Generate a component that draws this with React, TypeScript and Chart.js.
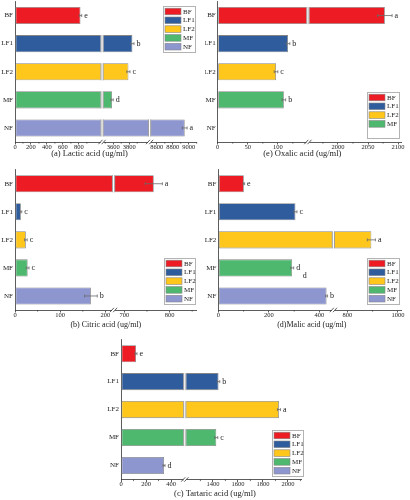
import React, { useEffect, useRef } from 'react';
import { Chart, registerables } from 'chart.js';

Chart.register(...registerables);

// ---------- data ----------
const categories = ['BF', 'LF1', 'LF2', 'MF', 'NF'];
const colors = ['#ED1C24', '#2E5C9C', '#FFC61B', '#4DB86E', '#8E96D0'];

// (a) Lactic acid
const lacticValues = [820, 3840, 3790, 3585, 8950];
const lacticErrors = [15, 20, 20, 15, 30];
const lacticLetters = ['e', 'b', 'c', 'd', 'a'];
const lacticSegments = [[0, 1090], [3460, 4055], [8510, 9100]];
const lacticTicks = [[0, 200, 400, 600, 800], [3600, 3800], [8600, 8800, 9000]];

// (e) Oxalic acid
const oxalicValues = [2078, 117, 97, 110, 0];
const oxalicErrors = [12, 3, 3, 3, 0];
const oxalicLetters = ['a', 'b', 'c', 'b', ''];
const oxalicSegments = [[0, 150], [1950, 2106]];
const oxalicTicks = [[0, 50, 100], [2000, 2050, 2100]];

// (b) Citric acid
const citricValues = [765, 13, 24, 28, 168];
const citricErrors = [19, 2, 3, 3, 14];
const citricLetters = ['a', 'c', 'c', 'c', 'b'];
const citricSegments = [[0, 218], [676, 860]];
const citricTicks = [[0, 100, 200], [700, 800]];

// (d) Malic acid
const malicValues = [101, 305, 895, 292, 428];
const malicErrors = [3, 6, 16, 6, 4];
const malicLetters = ['e', 'c', 'a', 'd', 'b'];
const malicExtraLetters = ['', '', '', 'd', ''];
const malicSegments = [[0, 455], [745, 1015]];
const malicTicks = [[0, 200, 400], [800, 1000]];

// (c) Tartaric acid
const tartaricValues = [120, 1445, 1928, 1427, 344];
const tartaricErrors = [8, 10, 12, 12, 8];
const tartaricLetters = ['e', 'b', 'a', 'c', 'd'];
const tartaricSegments = [[0, 510], [1175, 2110]];
const tartaricTicks = [[0, 200, 400], [1400, 1600, 1800, 2000]];

// ---------- styles ----------
const FONT = '"Liberation Serif", "Times New Roman", serif';
const BAR_BORDER = '#858585';
const AXIS = '#333333';
const TEXT = '#222222';

type Spec = {
  title: string;
  values: number[];
  errors: number[];
  letters: string[];
  extraLetters?: string[];
  segments: number[][];
  ticks: number[][];
  left: number; top: number; width: number; height: number;
  pad: { left: number; right: number; top: number; bottom: number };
  yWidth: number;
  xHeight: number;
  titleFrac: number;
  titleOffset: number;
  titleSize: number;
  legend: { x: number; y: number; w: number; h: number };
};

const specs: Spec[] = [
  {
    title: '(a) Lactic acid (ug/ml)', values: lacticValues, errors: lacticErrors, letters: lacticLetters,
    segments: lacticSegments, ticks: lacticTicks,
    left: 0, top: 0, width: 205, height: 165,
    pad: { left: 0, right: 8.3, top: 1.5, bottom: 13 }, yWidth: 15, xHeight: 10,
    titleFrac: 0.41, titleOffset: 12, titleSize: 8.5,
    legend: { x: 163, y: 6, w: 33, h: 47 },
  },
  {
    title: '(e) Oxalic acid (ug/ml)', values: oxalicValues, errors: oxalicErrors, letters: oxalicLetters,
    segments: oxalicSegments, ticks: oxalicTicks,
    left: 205, top: 0, width: 205, height: 165,
    pad: { left: 0, right: 8.3, top: 1.5, bottom: 13 }, yWidth: 12.7, xHeight: 10,
    titleFrac: 0.46, titleOffset: 12, titleSize: 8.5,
    legend: { x: 162, y: 92, w: 33, h: 47 },
  },
  {
    title: '(b) Citric acid (ug/ml)', values: citricValues, errors: citricErrors, letters: citricLetters,
    segments: citricSegments, ticks: citricTicks,
    left: 0, top: 165, width: 205, height: 170,
    pad: { left: 0, right: 8.3, top: 4.7, bottom: 15 }, yWidth: 15, xHeight: 10,
    titleFrac: 0.5, titleOffset: 14.5, titleSize: 8,
    legend: { x: 164, y: 93, w: 32, h: 47 },
  },
  {
    title: '(d)Malic acid (ug/ml)', values: malicValues, errors: malicErrors, letters: malicLetters,
    extraLetters: malicExtraLetters,
    segments: malicSegments, ticks: malicTicks,
    left: 205, top: 165, width: 205, height: 170,
    pad: { left: 0, right: 8.3, top: 4.7, bottom: 15 }, yWidth: 13.3, xHeight: 10,
    titleFrac: 0.51, titleOffset: 14.5, titleSize: 8,
    legend: { x: 162, y: 93, w: 33, h: 47 },
  },
  {
    title: '(c) Tartaric acid (ug/ml)', values: tartaricValues, errors: tartaricErrors, letters: tartaricLetters,
    segments: tartaricSegments, ticks: tartaricTicks,
    left: 100, top: 335, width: 215, height: 165,
    pad: { left: 0, right: 13.3, top: 4.7, bottom: 10.5 }, yWidth: 21, xHeight: 10,
    titleFrac: 0.52, titleOffset: 14, titleSize: 8.5,
    legend: { x: 172, y: 95, w: 32, h: 47 },
  },
];

function segIndex(v: number, segs: number[][]) {
  for (let k = 0; k < segs.length; k++) {
    if (v >= segs[k][0] && v <= segs[k][1]) return k;
  }
  return segs.length - 1;
}

function minorValues(ticks: number[], seg: number[]) {
  const out: number[] = [];
  if (ticks.length < 2) return out;
  const half = (ticks[1] - ticks[0]) / 2;
  for (let v = ticks[0] - half; v >= seg[0]; v -= 2 * half) out.push(v);
  for (let i = 0; i < ticks.length - 1; i++) out.push(ticks[i] + half);
  for (let v = ticks[ticks.length - 1] + half; v <= seg[1]; v += 2 * half) out.push(v);
  return out;
}

function makeDecor(spec: Spec) {
  const gap = 3;
  return {
    id: 'decor',
    afterDatasetsDraw(chart: any) {
      const ctx = chart.ctx;
      const ca = chart.chartArea;
      ctx.save();
      // break gaps through bars
      for (let k = 1; k < spec.segments.length; k++) {
        const bx = chart.scales['x' + k].left;
        ctx.fillStyle = '#ffffff';
        ctx.fillRect(bx - gap / 2, ca.top, gap, ca.bottom - ca.top - 0.6);
        const meta = chart.getDatasetMeta(k);
        ctx.strokeStyle = BAR_BORDER;
        ctx.lineWidth = 0.8;
        meta.data.forEach((el: any, i: number) => {
          const raw = chart.data.datasets[k].data[i];
          if (!raw) return;
          const p = el.getProps(['y', 'height'], true);
          ctx.beginPath();
          for (const xx of [bx - gap / 2 + 0.4, bx + gap / 2 - 0.4]) {
            ctx.moveTo(xx, p.y - p.height / 2);
            ctx.lineTo(xx, p.y + p.height / 2);
          }
          ctx.stroke();
        });
      }
      // error bars and letters
      const yScale = chart.scales.y;
      spec.values.forEach((v, i) => {
        if (!(v > 0)) return;
        const e = spec.errors[i];
        const sc = chart.scales['x' + segIndex(v, spec.segments)];
        const y = yScale.getPixelForValue(i);
        const xl = sc.getPixelForValue(v - e);
        const xr = sc.getPixelForValue(v + e);
        ctx.strokeStyle = '#6a6a6a';
        ctx.lineWidth = 0.8;
        ctx.beginPath();
        ctx.moveTo(xl, y); ctx.lineTo(xr, y);
        ctx.moveTo(xl, y - 1.5); ctx.lineTo(xl, y + 1.5);
        ctx.moveTo(xr, y - 1.5); ctx.lineTo(xr, y + 1.5);
        ctx.stroke();
        ctx.fillStyle = TEXT;
        ctx.font = `8px ${FONT}`;
        ctx.textAlign = 'left';
        ctx.textBaseline = 'middle';
        if (spec.letters[i]) ctx.fillText(spec.letters[i], xr + 2.5, y);
        if (spec.extraLetters && spec.extraLetters[i]) ctx.fillText(spec.extraLetters[i], xr + 9, y + 8);
      });
      ctx.restore();
    },
    afterDraw(chart: any) {
      const ctx = chart.ctx;
      const ca = chart.chartArea;
      ctx.save();
      // minor ticks
      ctx.strokeStyle = AXIS;
      ctx.lineWidth = 0.7;
      spec.segments.forEach((seg, k) => {
        const sc = chart.scales['x' + k];
        ctx.beginPath();
        minorValues(spec.ticks[k], seg).forEach((v) => {
          const x = sc.getPixelForValue(v);
          ctx.moveTo(x, ca.bottom);
          ctx.lineTo(x, ca.bottom + 1.6);
        });
        ctx.stroke();
      });
      // axis break marks
      for (let k = 1; k < spec.segments.length; k++) {
        const bx = chart.scales['x' + k].left;
        ctx.fillStyle = '#ffffff';
        ctx.fillRect(bx - gap / 2, ca.bottom - 1.2, gap, 3);
        ctx.strokeStyle = AXIS;
        ctx.lineWidth = 0.8;
        ctx.beginPath();
        for (const c of [bx - 1.6, bx + 1.6]) {
          ctx.moveTo(c - 2, ca.bottom + 2.2);
          ctx.lineTo(c + 2, ca.bottom - 2.2);
        }
        ctx.stroke();
      }
      // axis title
      ctx.fillStyle = TEXT;
      ctx.font = `${spec.titleSize}px ${FONT}`;
      ctx.textAlign = 'center';
      ctx.textBaseline = 'middle';
      ctx.fillText(spec.title, ca.left + spec.titleFrac * (ca.right - ca.left), ca.bottom + spec.titleOffset);
      // legend
      const L = spec.legend;
      ctx.fillStyle = '#ffffff';
      ctx.fillRect(L.x, L.y, L.w, L.h);
      ctx.strokeStyle = '#b3b3b3';
      ctx.lineWidth = 1;
      ctx.strokeRect(L.x + 0.5, L.y + 0.5, L.w - 1, L.h - 1);
      categories.forEach((c, i) => {
        if (!(spec.values[i] > 0)) return;
        const yy = L.y + 2.2 + i * 8.8;
        ctx.fillStyle = colors[i];
        ctx.fillRect(L.x + 2, yy, 16, 6.6);
        ctx.strokeStyle = BAR_BORDER;
        ctx.lineWidth = 0.6;
        ctx.strokeRect(L.x + 2, yy, 16, 6.6);
        ctx.fillStyle = TEXT;
        ctx.font = `7px ${FONT}`;
        ctx.textAlign = 'left';
        ctx.textBaseline = 'middle';
        ctx.fillText(c, L.x + 20, yy + 3.6);
      });
      ctx.restore();
    },
  };
}

function zeroPad(s: any) {
  s.paddingLeft = 0; s.paddingRight = 0; s.paddingTop = 0; s.paddingBottom = 0;
}

function buildConfig(spec: Spec): any {
  const scales: any = {
    y: {
      type: 'category',
      labels: categories,
      offset: true,
      grid: { display: false, drawTicks: false },
      border: { display: true, color: AXIS, width: 0.8 },
      ticks: { color: TEXT, font: { family: FONT, size: 7 }, padding: 2 },
      afterFit: (s: any) => { s.width = spec.yWidth; zeroPad(s); },
    },
  };
  spec.segments.forEach((seg, k) => {
    scales['x' + k] = {
      type: 'linear',
      axis: 'x',
      position: 'bottom',
      stack: 'xs',
      stackWeight: seg[1] - seg[0],
      min: seg[0],
      max: seg[1],
      offset: false,
      bounds: 'data',
      afterBuildTicks: (s: any) => { s.ticks = spec.ticks[k].map((v) => ({ value: v })); },
      afterFit: (s: any) => { s.height = spec.xHeight; zeroPad(s); },
      ticks: {
        callback: (v: any) => String(v),
        autoSkip: false, maxRotation: 0, minRotation: 0,
        padding: -1.5,
        color: TEXT,
        font: { family: FONT, size: 6.5 },
      },
      grid: { display: true, drawOnChartArea: false, drawTicks: true, tickLength: 2.5, color: AXIS, tickWidth: 0.8 },
      border: { display: true, color: AXIS, width: 0.8 },
    };
  });
  const datasets = spec.segments.map((seg, k) => ({
    label: 'seg' + k,
    data: spec.values.map((v) => (v > seg[0] ? [seg[0], Math.min(v, seg[1])] : null)),
    backgroundColor: colors,
    borderColor: BAR_BORDER,
    borderWidth: 0.8,
    borderSkipped: false,
    barPercentage: 0.61,
    categoryPercentage: 1,
    grouped: false,
    xAxisID: 'x' + k,
    yAxisID: 'y',
  }));
  return {
    type: 'bar',
    data: { labels: categories, datasets },
    options: {
      indexAxis: 'y',
      responsive: false,
      maintainAspectRatio: false,
      animation: false,
      layout: { padding: spec.pad },
      plugins: { legend: { display: false }, tooltip: { enabled: false }, title: { display: false } },
      scales,
    },
    plugins: [makeDecor(spec)],
  };
}

function Panel({ spec }: { spec: Spec }) {
  const ref = useRef<HTMLCanvasElement>(null);
  useEffect(() => {
    const chart = new Chart(ref.current as HTMLCanvasElement, buildConfig(spec));
    return () => chart.destroy();
  }, [spec]);
  return (
    <canvas
      ref={ref}
      width={spec.width}
      height={spec.height}
      style={{ position: 'absolute', left: spec.left, top: spec.top, width: spec.width, height: spec.height, display: 'block' }}
    />
  );
}

export default function App() {
  return (
    <div style={{ position: 'fixed', left: 0, top: 0, width: 410, height: 500, background: '#ffffff', overflow: 'hidden' }}>
      {specs.map((s) => (
        <Panel key={s.title} spec={s} />
      ))}
    </div>
  );
}
